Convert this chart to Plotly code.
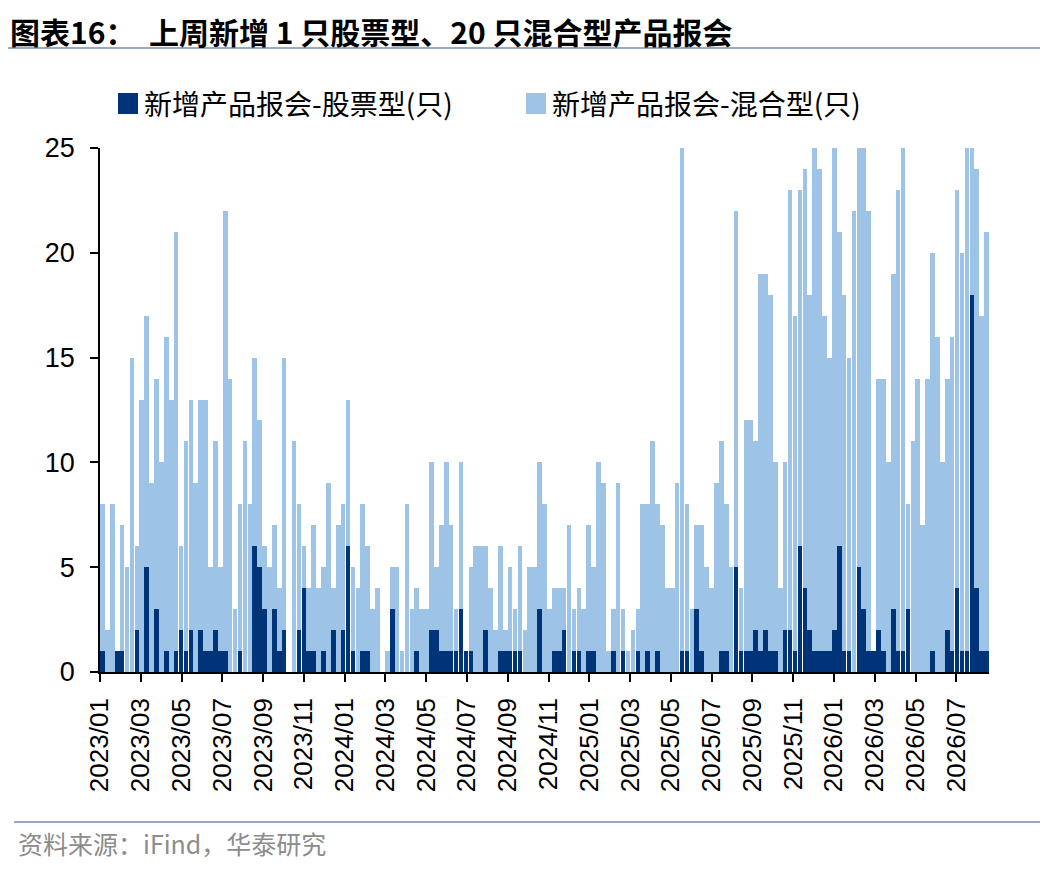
import plotly.graph_objects as go

# 每周新增报会产品数量(只)，自 2023/01 起逐周读取
stock = [1, 0, 0, 1, 1, 0, 0, 2, 0, 5, 0, 3, 0, 1, 0, 1, 2, 1, 2, 0, 2, 1, 1, 2, 1,
         1, 0, 0, 1, 0, 0, 6, 5, 3, 0, 3, 1, 2, 0, 0, 2, 4, 1, 1, 0, 1, 0,
         2, 0, 2, 6, 1, 0, 1, 1, 0, 0, 0, 0, 3, 0, 0, 0, 0, 1, 0, 0, 2, 2, 1, 1, 1, 1, 3, 1, 1,
         0, 0, 2, 0, 0, 1, 1, 1, 1, 1, 0, 0, 0, 3, 0, 0, 1, 1, 2, 0, 1, 1, 0, 1, 1, 0,
         0, 0, 1, 0, 1, 0, 0, 1, 0, 1, 0, 1, 0, 0, 0, 0, 1, 1, 0, 3, 1, 0, 0, 0, 1, 1, 0, 5, 1, 1, 1,
         2, 1, 2, 1, 1, 0, 2, 2, 1, 6, 4, 2, 1, 1, 1, 1, 2, 6, 1, 1, 0, 5, 3, 1, 1,
         2, 1, 0, 3, 1, 1, 3, 0, 0, 0, 0, 1, 0, 0, 2, 1, 4, 1, 1, 18, 4, 1, 1]
mixed = [7, 2, 8, 0, 6, 5, 15, 4, 13, 12, 9, 11, 10, 15, 13, 20, 4, 10, 11, 9, 11, 12, 4, 9, 4,
         21, 14, 3, 7, 11, 8, 9, 7, 3, 5, 4, 3, 13, 0, 11, 6, 2, 3, 6, 4, 4, 9,
         2, 7, 6, 7, 4, 4, 7, 5, 3, 4, 0, 1, 2, 5, 1, 8, 3, 3, 3, 3, 8, 3, 6, 9, 6, 2, 7, 0, 4,
         6, 6, 4, 4, 2, 5, 1, 4, 2, 5, 2, 5, 5, 7, 8, 3, 3, 3, 2, 7, 2, 3, 3, 6, 4, 10,
         9, 1, 2, 9, 2, 1, 2, 2, 8, 7, 11, 7, 7, 4, 4, 9, 24, 7, 3, 4, 6, 5, 4, 9, 10, 7, 5, 17, 3, 11, 11,
         9, 18, 17, 17, 9, 4, 8, 21, 16, 17, 20, 16, 24, 23, 16, 14, 23, 15, 17, 14, 22, 20, 22, 21, 0,
         12, 13, 10, 16, 22, 24, 5, 11, 14, 7, 14, 19, 16, 10, 12, 15, 19, 19, 24, 7, 20, 16, 20]
tick_text = ["2023/01", "2023/03", "2023/05", "2023/07", "2023/09", "2023/11",
             "2024/01", "2024/03", "2024/05", "2024/07", "2024/09", "2024/11",
             "2025/01", "2025/03", "2025/05", "2025/07", "2025/09", "2025/11",
             "2026/01", "2026/03", "2026/05", "2026/07"]
y_ticks = [0, 5, 10, 15, 20, 25]

DARK = "#003478"
LIGHT = "#9DC3E6"
LINE = "#96AAC4"
CJK = "Noto Sans CJK SC"
LAT = "Liberation Sans"

W, H = 1056, 869          # 页面尺寸
OFF = 8                   # 页面 body 默认边距
FW, FH = W - 2 * OFF, H - 2 * OFF
L, R, T, B = 100, 989, 148, 672   # 绘图区在页面中的像素边界


def fx(p):
    return (p - L) / (R - L)


def fy(p):
    return (B - p) / (B - T)


n = len(stock)
x = list(range(n))
span_months = 43.6  # 坐标轴覆盖的月数
tickvals = [-0.5 + n * 2 * j / span_months for j in range(len(tick_text))]

fig = go.Figure()
fig.add_trace(go.Bar(x=x, y=stock, name="新增产品报会-股票型(只)",
                     marker=dict(color=DARK, line=dict(width=0))))
fig.add_trace(go.Bar(x=x, y=mixed, name="新增产品报会-混合型(只)",
                     marker=dict(color=LIGHT, line=dict(width=0))))

axis_common = dict(showline=True, linecolor="black", linewidth=1.5,
                   ticks="outside", ticklen=8, tickwidth=1.5, tickcolor="black",
                   showgrid=False, zeroline=False)
fig.update_layout(
    width=FW, height=FH,
    margin=dict(l=L - OFF, r=FW - (R - OFF), t=T - OFF, b=FH - (B - OFF), pad=0),
    barmode="stack", bargap=0.06,
    showlegend=False,
    paper_bgcolor="white", plot_bgcolor="white",
    font=dict(family=LAT, color="black"),
    xaxis=dict(range=[-0.5, n - 0.5], tickmode="array", tickvals=tickvals, ticktext=tick_text,
               tickangle=-90, tickfont=dict(size=26, family=LAT, color="black"),
               ticklabelstandoff=6, **axis_common),
    yaxis=dict(range=[0, 25], tickmode="array", tickvals=y_ticks,
               tickfont=dict(size=27, family=LAT, color="black"),
               ticklabelstandoff=10, **axis_common),
)

shapes = [
    dict(type="line", x0=fx(7), x1=fx(1040), y0=fy(48), y1=fy(48),
         line=dict(color=LINE, width=2)),
    dict(type="line", x0=fx(14), x1=fx(1040), y0=fy(822), y1=fy(822),
         line=dict(color=LINE, width=2)),
    dict(type="rect", x0=fx(118), x1=fx(138), y0=fy(114), y1=fy(93),
         fillcolor=DARK, line=dict(width=0)),
    dict(type="rect", x0=fx(526), x1=fx(546), y0=fy(114), y1=fy(93),
         fillcolor=LIGHT, line=dict(width=0)),
]
for s in shapes:
    s.update(xref="paper", yref="paper")
fig.update_layout(shapes=shapes)

annotations = [
    dict(text="<b>图表16：  上周新增 1 只股票型、20 只混合型产品报会</b>", x=fx(9), y=fy(31),
         font=dict(size=30, family=CJK, color="black")),
    dict(text="新增产品报会-股票型(只)", x=fx(143), y=fy(103),
         font=dict(size=28, family=CJK, color="black")),
    dict(text="新增产品报会-混合型(只)", x=fx(551), y=fy(103),
         font=dict(size=28, family=CJK, color="black")),
    dict(text="资料来源：iFind，华泰研究", x=fx(17), y=fy(843),
         font=dict(size=25, family=CJK, color="#8C8C8C")),
]
for a in annotations:
    a.update(xref="paper", yref="paper", xanchor="left", yanchor="middle",
             showarrow=False, borderpad=0)
fig.update_layout(annotations=annotations)

fig.write_html("out.html")
